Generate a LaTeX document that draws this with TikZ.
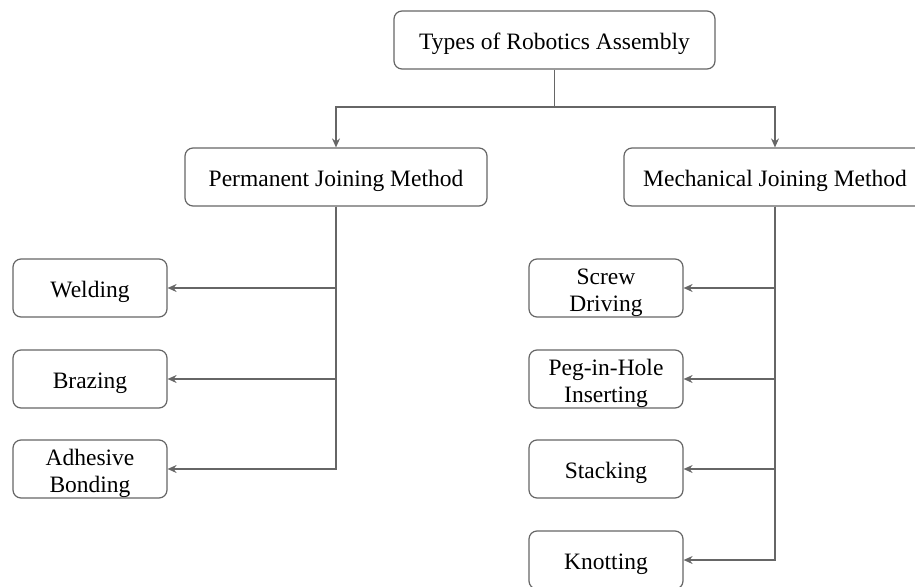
\documentclass[tikz,border=0pt]{standalone}
\usepackage{fontspec}
\setmainfont{Liberation Serif}
\usetikzlibrary{arrows.meta}
\definecolor{edge}{HTML}{666666}
% box caption: centred lines, drawn a little below the geometric centre
% (the box keeps its natural height and depth, so the node size is unchanged)
\newcommand{\boxtext}[1]{\raisebox{-4.5pt}[\height][\depth]{\begin{tabular}{@{}c@{}}#1\end{tabular}}}
\begin{document}
\begin{tikzpicture}[x=1pt,y=-1pt,
  box/.style={draw=edge, line width=1.2pt, rounded corners=8pt, fill=white,
    align=center, inner sep=0pt, font=\fontsize{23.5}{27}\selectfont},
  topbox/.style={box, minimum width=321pt, minimum height=58pt},
  midbox/.style={box, minimum width=302pt, minimum height=58pt},
  leafbox/.style={box, minimum width=154pt, minimum height=58pt},
  link/.style={draw=edge, line width=1.2pt, -{Stealth[length=9pt,width=8pt,inset=3pt]}},
  plain/.style={draw=edge, line width=1.2pt}
]
\useasboundingbox (0,0) rectangle (915,586);

% root
\node[topbox] (root) at (554.5,40) {\boxtext{Types of Robotics Assembly}};

% second level
\node[midbox] (perm) at (336,177) {\boxtext{Permanent Joining Method}};
\node[midbox] (mech) at (775,177) {\boxtext{Mechanical Joining Method}};

% permanent joining leaves
\node[leafbox] (weld) at (90,288) {\boxtext{Welding}};
\node[leafbox] (braz) at (90,379) {\boxtext{Brazing}};
\node[leafbox] (adhe) at (90,469) {\boxtext{Adhesive\\Bonding}};

% mechanical joining leaves
\node[leafbox] (screw) at (606,288) {\boxtext{Screw\\Driving}};
\node[leafbox] (peg)   at (606,379) {\boxtext{Peg-in-Hole\\Inserting}};
\node[leafbox] (stack) at (606,469) {\boxtext{Stacking}};
\node[leafbox] (knot)  at (606,560) {\boxtext{Knotting}};

% root split
\coordinate (split) at (554.5,107);
\draw[plain] (root.south) -- (split);
\draw[link] (split) -| (perm.north);
\draw[link] (split) -| (mech.north);

% permanent branch
\draw[link] (perm.south) |- (weld.east);
\draw[link] (perm.south) |- (braz.east);
\draw[link] (perm.south) |- (adhe.east);

% mechanical branch
\draw[link] (mech.south) |- (screw.east);
\draw[link] (mech.south) |- (peg.east);
\draw[link] (mech.south) |- (stack.east);
\draw[link] (mech.south) |- (knot.east);
\end{tikzpicture}
\end{document}
